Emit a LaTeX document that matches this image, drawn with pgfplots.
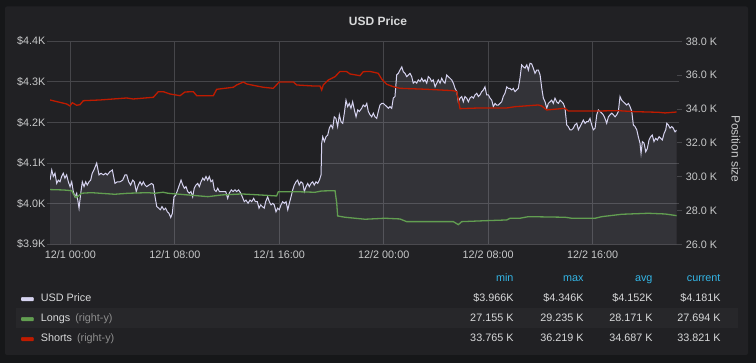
\documentclass[border=0pt]{standalone}
\usepackage{fontspec}
\setmainfont{Liberation Sans}
\usepackage{pgfplots}
\usepackage{pgfplotstable}
\pgfplotsset{compat=1.18}
\definecolor{outerbg}{HTML}{161719}
\definecolor{panelbg}{HTML}{212124}
\definecolor{bandbg}{HTML}{27272A}
\definecolor{gridcol}{HTML}{46464A}
\definecolor{tickcol}{HTML}{C8C9CA}
\definecolor{titlecol}{HTML}{D8D9DA}
\definecolor{hdrcol}{HTML}{33B5E5}
\definecolor{dimcol}{HTML}{8E8E8E}
\definecolor{pricecol}{HTML}{D6D3F0}
\definecolor{longcol}{HTML}{629E51}
\definecolor{shortcol}{HTML}{BF1B00}

\pgfplotstableread{
h p
-1.55 4058
-1.42 4083
-1.30 4067
-1.17 4075
-1.04 4050
-0.92 4058
-0.79 4054
-0.66 4067
-0.54 4075
-0.41 4063
-0.28 4071
-0.15 4054
-0.02 4042
0.11 4054
0.23 4030
0.36 4017
0.49 4026
0.67 3989
0.80 4026
0.92 4054
1.05 4042
1.18 4054
1.30 4046
1.43 4054
1.56 4058
1.68 4075
1.81 4083
2.02 4100
2.20 4071
2.35 4075
2.53 4071
2.71 4075
2.83 4071
3.04 4079
3.22 4083
3.42 4050
3.60 4054
3.81 4054
4.01 4058
4.19 4071
4.32 4071
4.47 4054
4.62 4046
4.78 4058
4.90 4054
5.05 4030
5.21 4046
5.34 4054
5.47 4046
5.59 4054
5.72 4046
5.85 4042
6.03 4046
6.23 4050
6.36 4046
6.49 4017
6.62 3993
6.77 3989
6.89 3985
7.02 3993
7.17 3985
7.30 3989
7.43 3980
7.56 3976
7.69 3966
7.81 3976
7.94 4017
8.07 4021
8.22 4034
8.35 4046
8.48 4058
8.61 4046
8.73 4038
8.86 4042
8.99 4030
9.11 4026
9.24 4030
9.37 4017
9.49 4038
9.62 4046
9.76 4050
9.88 4042
10.01 4054
10.14 4063
10.26 4058
10.39 4067
10.52 4058
10.64 4067
10.77 4054
10.90 4058
11.03 4034
11.16 4030
11.29 4038
11.41 4030
11.54 4030
11.72 4030
11.90 4030
12.05 4013
12.17 4026
12.33 4034
12.46 4030
12.61 4034
12.74 4030
12.89 4034
13.05 4026
13.17 4017
13.32 4005
13.45 4009
13.61 4001
13.76 4009
13.89 4005
14.04 4013
14.17 4005
14.32 4005
14.45 3989
14.58 3997
14.70 3993
14.85 3989
14.96 4005
15.11 4017
15.24 4005
15.37 3997
15.50 4001
15.62 3997
15.75 3980
15.88 3989
16.00 3985
16.13 3997
16.26 4005
16.39 4001
16.52 4005
16.65 3985
16.77 4001
16.90 4017
17.03 4034
17.15 4046
17.28 4054
17.41 4058
17.53 4046
17.66 4054
17.80 4050
17.92 4030
18.05 4042
18.18 4050
18.30 4042
18.43 4050
18.56 4054
18.68 4046
18.81 4054
18.94 4050
19.07 4058
19.20 4071
19.25 4149
19.33 4165
19.45 4153
19.58 4165
19.71 4169
19.83 4186
19.96 4194
20.09 4186
20.21 4214
20.34 4210
20.47 4190
20.60 4219
20.73 4202
20.86 4198
20.98 4223
21.11 4255
21.24 4239
21.36 4247
21.49 4235
21.62 4251
21.75 4231
21.88 4214
22.01 4231
22.13 4227
22.31 4235
22.43 4243
22.57 4239
22.70 4247
22.82 4227
22.95 4219
23.08 4214
23.20 4223
23.33 4214
23.46 4210
23.58 4227
23.71 4243
23.84 4247
23.97 4247
24.10 4243
24.23 4239
24.35 4235
24.48 4239
24.61 4235
24.73 4260
24.86 4264
24.99 4317
25.11 4321
25.24 4329
25.38 4337
25.50 4325
25.63 4321
25.76 4313
25.88 4317
26.01 4321
26.14 4313
26.26 4297
26.39 4301
26.52 4297
26.65 4305
26.78 4301
26.91 4309
27.03 4301
27.16 4305
27.29 4297
27.41 4313
27.54 4309
27.67 4301
27.79 4305
27.93 4288
28.06 4297
28.18 4305
28.31 4297
28.44 4309
28.56 4301
28.69 4297
28.82 4317
28.94 4313
29.07 4309
29.20 4305
29.33 4297
29.46 4284
29.59 4276
29.71 4251
29.84 4260
29.97 4264
30.09 4251
30.22 4264
30.35 4260
30.48 4251
30.60 4260
30.74 4264
30.86 4260
30.99 4268
31.12 4272
31.24 4264
31.37 4268
31.50 4276
31.62 4280
31.75 4288
31.88 4268
32.01 4268
32.14 4260
32.27 4255
32.39 4239
32.52 4247
32.65 4243
32.77 4243
32.90 4247
33.03 4251
33.15 4264
33.28 4272
33.42 4288
33.54 4284
33.67 4284
33.80 4280
33.92 4284
34.05 4276
34.30 4284
34.43 4309
34.56 4342
34.69 4337
34.82 4334
34.95 4342
35.07 4329
35.20 4346
35.33 4344
35.45 4334
35.58 4321
35.71 4329
35.84 4329
35.97 4317
36.10 4284
36.22 4260
36.35 4251
36.48 4235
36.60 4247
36.73 4251
36.86 4255
36.98 4247
37.11 4260
37.24 4251
37.37 4247
37.50 4255
37.63 4251
37.75 4247
37.88 4235
38.01 4194
38.13 4190
38.26 4182
38.39 4182
38.51 4186
38.64 4194
38.78 4198
38.90 4182
39.03 4190
39.16 4198
39.28 4206
39.41 4198
39.54 4202
39.66 4202
39.79 4210
39.92 4194
40.05 4182
40.18 4186
40.31 4219
40.43 4231
40.56 4227
40.69 4223
40.81 4219
40.94 4210
41.07 4198
41.20 4214
41.33 4219
41.46 4223
41.58 4219
41.71 4214
41.84 4219
41.96 4227
42.09 4264
42.22 4255
42.34 4251
42.47 4247
42.60 4243
42.73 4247
42.86 4239
42.99 4227
43.11 4194
43.24 4190
43.37 4182
43.49 4165
43.62 4149
43.70 4124
43.80 4153
43.93 4149
44.06 4128
44.18 4136
44.31 4157
44.44 4165
44.56 4169
44.69 4153
44.82 4161
44.95 4157
45.08 4165
45.21 4161
45.33 4157
45.46 4173
45.59 4182
45.67 4198
45.79 4194
45.92 4186
46.05 4190
46.17 4186
46.30 4177
46.43 4181
}\pricedata

\pgfplotstableread{
h v
-1.55 29235
-0.54 29212
0.11 29171
0.28 28917
0.46 28757
0.72 28917
0.84 29017
1.61 29053
3.40 28958
4.42 29017
5.95 29053
6.46 29017
7.10 29076
7.48 29017
9.01 28917
10.54 28816
11.59 28917
13.12 28976
14.53 28917
15.80 28857
15.93 29112
17.21 29112
18.74 29076
19.25 29153
20.27 29171
20.40 28426
20.47 27675
21.03 27599
22.57 27481
24.10 27540
25.24 27498
25.76 27339
27.29 27339
29.33 27339
29.71 27161
29.97 27339
31.88 27398
33.42 27439
33.67 27540
34.43 27540
35.07 27634
37.88 27599
38.39 27540
40.18 27540
40.69 27634
42.22 27775
44.26 27834
45.54 27793
46.43 27694
}\longdata

\pgfplotstableread{
h v
-1.55 34531
-0.28 34295
-0.02 34176
0.15 34372
0.49 34218
0.74 34253
1.00 34490
2.27 34531
4.32 34649
4.82 34590
6.36 34691
6.74 35022
7.12 35022
7.63 34886
8.40 34785
8.78 35004
9.42 35022
9.68 34785
10.95 34785
11.21 35163
12.48 35282
12.74 35418
13.25 35595
13.51 35477
14.27 35358
14.78 35282
15.54 35222
16.00 35595
17.08 35595
17.34 35418
18.61 35358
19.12 35358
19.25 35122
19.37 35418
19.76 35713
20.27 35908
20.65 36219
21.16 36210
21.42 36068
22.18 35967
22.43 36204
22.95 36219
23.58 36109
23.84 35772
24.23 35459
24.73 35317
25.24 35222
27.29 35163
29.33 35081
29.59 35022
29.84 34019
31.37 34060
33.42 34060
34.05 34135
35.84 34236
36.10 34176
36.48 33940
37.88 34040
38.13 33881
40.43 33881
41.96 33899
43.24 33840
45.02 33804
45.54 33765
46.43 33821
}\shortdata

\begin{document}
\begin{tikzpicture}
\fill[outerbg] (0,0) rectangle (756bp,363bp);
\fill[panelbg, rounded corners=2bp] (5bp,8bp) rectangle (748bp,356.5bp);
\fill[bandbg] (16bp,35.3bp) rectangle (738bp,55.3bp);
\node[text=titlecol, font=\fontsize{12bp}{14bp}\selectfont\bfseries] at (378bp,341.5bp) {USD Price};

\begin{axis}[
  at={(50bp,118.7bp)}, anchor=south west,
  scale only axis, width=626.7bp, height=203bp,
  xmin=-1.554, xmax=46.43, ymin=3900, ymax=4400,
  axis line style={draw=none},
  xtick={0,8,16,24,32,40},
  xticklabels={12/1 00:00,12/1 08:00,12/1 16:00,12/2 00:00,12/2 08:00,12/2 16:00},
  ytick={3900,4000,4100,4200,4300,4400},
  yticklabels={\$3.9K,\$4.0K,\$4.1K,\$4.2K,\$4.3K,\$4.4K},
  grid=major, grid style={gridcol, line width=0.8bp},
  x tick style={draw=none}, y tick style={gridcol, line width=0.8bp},
  tick align=outside, major tick length=2.5bp,
  /pgf/number format/assume math mode=true,
  ticklabel style={text=tickcol, font=\fontsize{10.8bp}{13bp}\selectfont, inner sep=0pt},
  yticklabel style={anchor=east, xshift=-2bp},
  xticklabel style={anchor=north, yshift=-4bp},
  legend style={at={(axis description cs:-0.04627,-0.2424)}, anchor=north west,
    draw=none, fill=none, inner sep=0pt, outer sep=0pt, row sep=10bp,
    nodes={inner sep=0pt, text height=8bp, text depth=2bp, text=titlecol,
      font=\fontsize{10.8bp}{12bp}\selectfont},
    /tikz/every odd column/.append style={column sep=7bp}},
  legend cell align=left,
]
\addplot[draw=none, fill=pricecol, fill opacity=0.1, forget plot] table[x=h, y=p] {\pricedata} \closedcycle;
\addplot[pricecol, line width=1bp, forget plot] table[x=h, y=p] {\pricedata};
\addlegendimage{legend image code/.code={\fill[pricecol, rounded corners=1bp] (0bp,-2.4bp) rectangle (12.5bp,1.2bp);}}
\addlegendentry{USD Price}
\addlegendimage{legend image code/.code={\fill[longcol, rounded corners=1bp] (0bp,-2.4bp) rectangle (12.5bp,1.2bp);}}
\addlegendentry{Longs\hspace{2bp} \textcolor{dimcol}{(right-y)}}
\addlegendimage{legend image code/.code={\fill[shortcol, rounded corners=1bp] (0bp,-2.4bp) rectangle (12.5bp,1.2bp);}}
\addlegendentry{Shorts\hspace{2bp} \textcolor{dimcol}{(right-y)}}
\end{axis}

\begin{axis}[
  at={(50bp,118.7bp)}, anchor=south west,
  scale only axis, width=626.7bp, height=203bp,
  xmin=-1.554, xmax=46.43, ymin=26000, ymax=38000,
  axis x line=none, axis y line*=right, axis line style={draw=none},
  scaled y ticks=false,
  ytick={26000,28000,30000,32000,34000,36000,38000},
  yticklabels={26.0 K,28.0 K,30.0 K,32.0 K,34.0 K,36.0 K,38.0 K},
  y tick style={gridcol, line width=0.8bp},
  tick align=outside, major tick length=5bp,
  /pgf/number format/assume math mode=true,
  ticklabel style={text=tickcol, font=\fontsize{10.8bp}{13bp}\selectfont, inner sep=0pt},
  yticklabel style={anchor=west, xshift=4bp},
]
\addplot[longcol, line width=1.3bp] table[x=h, y=v] {\longdata};
\addplot[shortcol, line width=1.3bp] table[x=h, y=v] {\shortdata};
\end{axis}

\node[rotate=-90, text=tickcol, font=\fontsize{12bp}{14bp}\selectfont] at (736bp,214bp) {Position size};

\begin{scope}[font=\fontsize{10.8bp}{12bp}\selectfont]
\node[anchor=base east, text=hdrcol] at (517bp,81.5bp) {min};
\node[anchor=base east, text=hdrcol] at (587bp,81.5bp) {max};
\node[anchor=base east, text=hdrcol] at (656bp,81.5bp) {avg};
\node[anchor=base east, text=hdrcol] at (724bp,81.5bp) {current};
\node[anchor=base east, text=titlecol] at (517bp,61.5bp) {\$3.966K};
\node[anchor=base east, text=titlecol] at (587bp,61.5bp) {\$4.346K};
\node[anchor=base east, text=titlecol] at (656bp,61.5bp) {\$4.152K};
\node[anchor=base east, text=titlecol] at (724bp,61.5bp) {\$4.181K};
\node[anchor=base east, text=titlecol] at (517bp,41.5bp) {27.155 K};
\node[anchor=base east, text=titlecol] at (587bp,41.5bp) {29.235 K};
\node[anchor=base east, text=titlecol] at (656bp,41.5bp) {28.171 K};
\node[anchor=base east, text=titlecol] at (724bp,41.5bp) {27.694 K};
\node[anchor=base east, text=titlecol] at (517bp,21.5bp) {33.765 K};
\node[anchor=base east, text=titlecol] at (587bp,21.5bp) {36.219 K};
\node[anchor=base east, text=titlecol] at (656bp,21.5bp) {34.687 K};
\node[anchor=base east, text=titlecol] at (724bp,21.5bp) {33.821 K};
\end{scope}

\pgfresetboundingbox
\path[use as bounding box] (0,0) rectangle (756bp,363bp);
\end{tikzpicture}
\end{document}
